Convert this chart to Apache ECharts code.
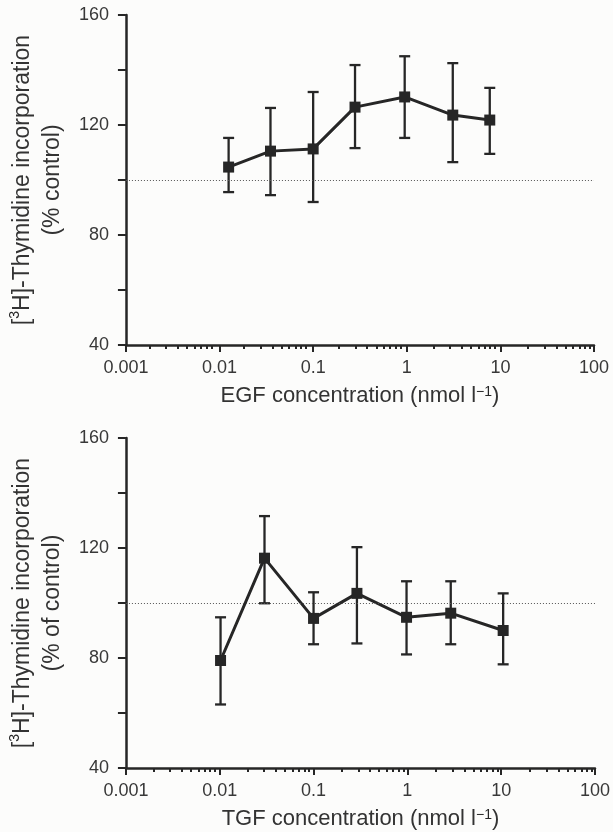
<!DOCTYPE html>
<html>
<head>
	<meta charset="utf-8" />
	<title>Thymidine incorporation</title>
	<script src="https://cdn.jsdelivr.net/npm/echarts@6/dist/echarts.min.js"></script>
</head>
<body style="margin:0;background:#fcfcfb;">
	<div id="main" style="width: 613px;height: 832px;"></div>
	<script type="text/javascript">

		// EGF panel (top)
		var egfConc = [0.0125, 0.035, 0.1, 0.28, 0.95, 3.1, 7.7];
		var egfMean = [104.7, 110.5, 111.3, 126.5, 130.2, 123.6, 121.8];
		var egfLow  = [95.6, 94.5, 92, 111.6, 115.3, 106.5, 109.5];
		var egfHigh = [115.3, 126.2, 132, 141.8, 145, 142.5, 133.5];

		// TGF panel (bottom)
		var tgfConc = [0.0102, 0.03, 0.1, 0.29, 0.98, 2.9, 10.5];
		var tgfMean = [79.1, 116.3, 94.4, 103.5, 94.8, 96.3, 90];
		var tgfLow  = [63.1, 99.9, 85, 85.3, 81.3, 85, 77.7];
		var tgfHigh = [94.8, 131.6, 103.9, 120.3, 107.9, 107.9, 103.5];

		// axis ticks
		var xMajor = [0.001, 0.01, 0.1, 1, 10, 100];
		var xLabels = ['0.001', '0.01', '0.1', '1', '10', '100'];
		var xMinor = [];
		[0.001, 0.01, 0.1, 1, 10].forEach(function (d) {
			for (var k = 2; k <= 9; k++) xMinor.push(+(d * k).toPrecision(3));
		});
		var yTicks = [40, 60, 80, 100, 120, 140, 160];
		var yLabels = [40, 80, 120, 160];
		var controlLevel = 100;

		var ink = '#262626';
		var font = 'Liberation Sans';

		var myChart = echarts.init(document.getElementById('main'));

		var grids = [
			{left: 121, top: 15, width: 473, height: 330},
			{left: 125, top: 438, width: 471, height: 330}
		];

		function pairs(xs, ys) {
			return xs.map(function (x, i) { return [x, ys[i]]; });
		}
		function errData(xs, lo, hi) {
			return xs.map(function (x, i) { return [x, lo[i], hi[i]]; });
		}

		var grid = [], xAxis = [], yAxis = [], series = [];
		var names = [
			{x: 'EGF concentration (nmol l{sup|\u22121})', y: '[{sup|3}H]-Thymidine incorporation\n(% control)'},
			{x: 'TGF concentration (nmol l{sup|\u22121})', y: '[{sup|3}H]-Thymidine incorporation\n(% of control)'}
		];
		var sets = [
			{c: egfConc, m: egfMean, lo: egfLow, hi: egfHigh},
			{c: tgfConc, m: tgfMean, lo: tgfLow, hi: tgfHigh}
		];
		var richSup = {sup: {fontSize: 14, fontFamily: font, color: ink, verticalAlign: 'top', padding: [0, 0, 8, 0]}};

		grids.forEach(function (g, p) {
			// main grid + an overlay grid for the short minor ticks
			grid.push(g);
			grid.push({left: g.left, top: g.top, width: g.width, height: g.height});
			var gi = p * 2;

			xAxis.push({
				gridIndex: gi, type: 'log', logBase: 10, min: 0.001, max: 100,
				name: names[p].x, nameLocation: 'middle', nameGap: 40,
				nameTextStyle: {fontSize: 22, fontFamily: font, color: '#333', rich: richSup},
				axisLine: {lineStyle: {color: ink, width: 2.5}},
				axisTick: {length: 7, lineStyle: {color: ink, width: 2}, customValues: xMajor},
				axisLabel: {fontSize: 18, fontFamily: font, color: '#383838', margin: 14,
					customValues: xMajor,
					formatter: function (v) { return xLabels[xMajor.indexOf(v)] || String(v); }},
				splitLine: {show: false}
			});
			xAxis.push({
				gridIndex: gi + 1, type: 'log', logBase: 10, min: 0.001, max: 100,
				axisLine: {show: false},
				axisTick: {length: 4, lineStyle: {color: ink, width: 2}, customValues: xMinor},
				axisLabel: {show: false},
				splitLine: {show: false}
			});
			yAxis.push({
				gridIndex: gi, type: 'value', min: 40, max: 160, interval: 20,
				name: names[p].y, nameLocation: 'middle', nameGap: 44, nameRotate: 90,
				nameTextStyle: {fontSize: 23, fontFamily: font, color: '#333', lineHeight: 30, rich: richSup},
				axisLine: {lineStyle: {color: ink, width: 2.5}},
				axisTick: {length: 8, lineStyle: {color: ink, width: 2}, customValues: yTicks},
				axisLabel: {fontSize: 18, fontFamily: font, color: '#383838', margin: 17, customValues: yLabels},
				splitLine: {show: false}
			});
			yAxis.push({
				gridIndex: gi + 1, type: 'value', min: 40, max: 160, show: false
			});

			var s = sets[p];
			series.push({
				type: 'custom', xAxisIndex: gi, yAxisIndex: gi, z: 3,
				data: errData(s.c, s.lo, s.hi),
				renderItem: function (params, api) {
					var lo = api.coord([api.value(0), api.value(1)]);
					var hi = api.coord([api.value(0), api.value(2)]);
					var w = 5.5;
					var st = {stroke: ink, lineWidth: 2.3, fill: null};
					return {type: 'group', children: [
						{type: 'line', shape: {x1: lo[0], y1: lo[1], x2: hi[0], y2: hi[1]}, style: st},
						{type: 'line', shape: {x1: lo[0] - w, y1: lo[1], x2: lo[0] + w, y2: lo[1]}, style: st},
						{type: 'line', shape: {x1: hi[0] - w, y1: hi[1], x2: hi[0] + w, y2: hi[1]}, style: st}
					]};
				}
			});
			series.push({
				type: 'line', xAxisIndex: gi, yAxisIndex: gi, z: 4,
				data: pairs(s.c, s.m),
				symbol: 'rect', symbolSize: 11,
				itemStyle: {color: ink},
				lineStyle: {color: ink, width: 3},
				silent: true,
				markLine: {
					silent: true, symbol: 'none', label: {show: false},
					lineStyle: {color: '#555', width: 1, type: [1, 2]},
					data: [{yAxis: controlLevel}]
				}
			});
		});

		var option = {
			backgroundColor: '#fcfcfb',
			animation: false,
			grid: grid,
			xAxis: xAxis,
			yAxis: yAxis,
			series: series
		};

		myChart.setOption(option);

	</script>
</body>
</html>
